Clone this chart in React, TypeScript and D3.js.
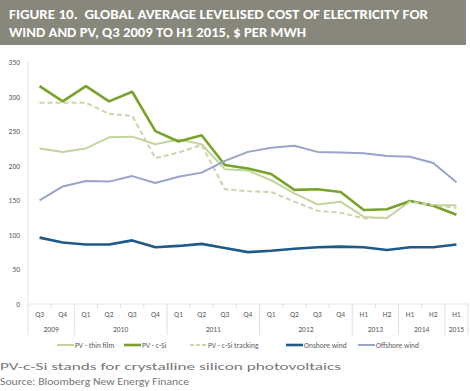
import React, { useEffect, useRef } from 'react';
import * as d3 from 'd3';

const periods = ['Q3', 'Q4', 'Q1', 'Q2', 'Q3', 'Q4', 'Q1', 'Q2', 'Q3', 'Q4', 'Q1', 'Q2', 'Q3', 'Q4', 'H1', 'H2', 'H1', 'H2', 'H1'];
const years = ['2009', '2009', '2010', '2010', '2010', '2010', '2011', '2011', '2011', '2011', '2012', '2012', '2012', '2012', '2013', '2013', '2014', '2014', '2015'];

const thinFilm = [225, 220, 225, 241, 242, 231, 238, 231, 195, 193, 179, 160, 144, 148, 126, 124, 149, 143, 143];
const cSi = [315, 293, 315, 293, 307, 250, 235, 244, 201, 196, 188, 165, 166, 162, 136, 137, 149, 142, 129];
const cSiTracking = [291, 291, 291, 275, 272, 211, 219, 230, 166, 163, 162, 148, 135, 132, 124, 125, 148, 143, 139];
const onshore = [96, 89, 86, 86, 92, 82, 84, 87, 81, 75, 77, 80, 82, 83, 82, 78, 82, 82, 86];
const offshore = [150, 170, 178, 177, 185, 175, 184, 190, 207, 220, 226, 229, 220, 219, 218, 214, 213, 204, 176];

const yTicks = [0, 50, 100, 150, 200, 250, 300, 350];

const series = [
  { name: 'PV - thin film', values: thinFilm, color: '#c3d59a', width: 2, dash: '' },
  { name: 'PV - c-Si', values: cSi, color: '#78a22c', width: 2.6, dash: '' },
  { name: 'PV - c-Si tracking', values: cSiTracking, color: '#cbd5ac', width: 2, dash: '5,3' },
  { name: 'Onshore wind', values: onshore, color: '#1d5a8a', width: 2.6, dash: '' },
  { name: 'Offshore wind', values: offshore, color: '#99a3cc', width: 2, dash: '' },
];
const legendX = [57, 124, 190, 286, 358];

const App = () => {
  const ref = useRef<SVGSVGElement>(null);

  useEffect(() => {
    const svg = d3.select(ref.current);
    svg.selectAll('*').remove();

    const left = 28;
    const right = 468;
    const top = 62;
    const bottom = 304;
    const font = 'Calibri, Carlito, "Open Sans", sans-serif';

    // title bar
    svg.append('rect').attr('x', 0).attr('y', 0).attr('width', 466).attr('height', 45).attr('fill', '#87877b');
    const titleLines = ['FIGURE 10.  GLOBAL AVERAGE LEVELISED COST OF ELECTRICITY FOR', 'WIND AND PV, Q3 2009 TO H1 2015, $ PER MWH'];
    const titleLen = [419, 297];
    titleLines.forEach((t, i) => {
      svg.append('text')
        .attr('x', 9).attr('y', 19 + i * 18)
        .attr('fill', '#fff')
        .attr('font-family', font)
        .attr('font-weight', 'bold')
        .attr('font-size', 13)
        .attr('textLength', titleLen[i])
        .attr('lengthAdjust', 'spacingAndGlyphs')
        .attr('xml:space', 'preserve')
        .text(t);
    });

    const x = d3.scaleBand<number>()
      .domain(d3.range(periods.length))
      .range([left, right]);

    const y = d3.scaleLinear().domain([0, 350]).range([bottom, top]);

    // y axis
    svg.append('line').attr('x1', left).attr('x2', left).attr('y1', top).attr('y2', bottom)
      .attr('stroke', '#e4e4e4');
    yTicks.forEach(t => {
      svg.append('text')
        .attr('x', 20).attr('y', y(t) + 3)
        .attr('text-anchor', 'end')
        .attr('font-family', font).attr('font-size', 7.5).attr('fill', '#5a5a5a')
        .text(t);
    });

    // x axis baseline and category ticks
    svg.append('line').attr('x1', left).attr('x2', right).attr('y1', bottom).attr('y2', bottom)
      .attr('stroke', '#e8e8e8');
    d3.range(periods.length + 1).forEach(i => {
      const xx = left + i * x.bandwidth();
      const isYear = i === 0 || i === periods.length || years[i] !== years[i - 1];
      svg.append('line')
        .attr('x1', xx).attr('x2', xx)
        .attr('y1', bottom).attr('y2', isYear ? 335 : 308)
        .attr('stroke', '#dedede');
    });
    periods.forEach((p, i) => {
      svg.append('text')
        .attr('x', x(i)! + x.bandwidth() / 2).attr('y', 317)
        .attr('text-anchor', 'middle')
        .attr('font-family', font).attr('font-size', 7.5).attr('fill', '#5a5a5a')
        .text(p);
    });
    const yearNames = Array.from(new Set(years));
    yearNames.forEach(yr => {
      const idx = years.map((v, i) => (v === yr ? i : -1)).filter(i => i >= 0);
      const cx = (x(idx[0])! + x(idx[idx.length - 1])! + x.bandwidth()) / 2;
      svg.append('text')
        .attr('x', cx).attr('y', 332)
        .attr('text-anchor', 'middle')
        .attr('font-family', font).attr('font-size', 7.5).attr('fill', '#5a5a5a')
        .text(yr);
    });

    // lines
    const line = d3.line<number>()
      .x((_, i) => x(i)! + x.bandwidth() / 2)
      .y(d => y(d));

    series.forEach(s => {
      svg.append('path')
        .datum(s.values)
        .attr('d', line)
        .attr('fill', 'none')
        .attr('stroke', s.color)
        .attr('stroke-width', s.width)
        .attr('stroke-dasharray', s.dash)
        .attr('stroke-linejoin', 'round');
    });

    // legend
    series.forEach((s, i) => {
      const lx = legendX[i];
      svg.append('line')
        .attr('x1', lx).attr('x2', lx + 17).attr('y1', 345).attr('y2', 345)
        .attr('stroke', s.color).attr('stroke-width', s.width)
        .attr('stroke-dasharray', s.dash ? '4,2' : '');
      svg.append('text')
        .attr('x', lx + 18).attr('y', 348)
        .attr('font-family', font).attr('font-size', 7.5).attr('fill', '#5a5a5a')
        .text(s.name);
    });

    // notes
    const notes = ['PV-c-Si stands for crystalline silicon photovoltaics', 'Source: Bloomberg New Energy Finance'];
    const noteLen = [341, 189];
    notes.forEach((n, i) => {
      svg.append('text')
        .attr('x', 0).attr('y', 370 + i * 15)
        .attr('font-family', font).attr('font-size', 11).attr('fill', '#777')
        .attr('textLength', noteLen[i])
        .attr('lengthAdjust', 'spacingAndGlyphs')
        .text(n);
    });
  }, []);

  return <svg ref={ref} width={470} height={391} style={{ position: 'absolute', left: 0, top: 0 }} />;
};

export default App;
